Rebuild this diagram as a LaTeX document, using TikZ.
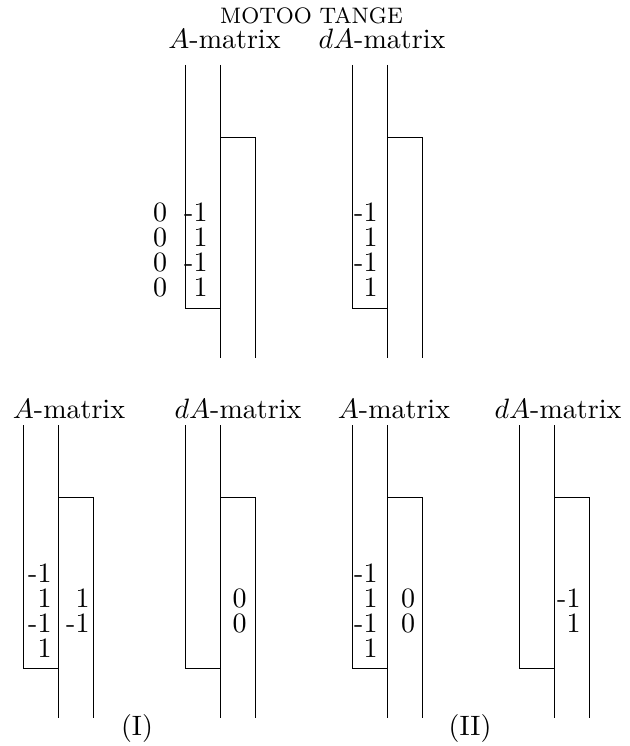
\documentclass[tikz,border=0pt]{standalone}
\usepackage{amsmath}
\usepackage{tikz}
\usetikzlibrary{calc}
\tikzset{
  entry/.style={anchor=base east, inner sep=0pt},
  zentry/.style={anchor=base, inner sep=0pt},
  mlabel/.style={anchor=base, inner sep=0pt}
}
% one A- or dA-matrix: left strip ending low, right strip starting lower
\newcommand{\strippair}[3]{%
  \coordinate (#1-lt) at (#2,{65+#3});
  \coordinate (#1-lb) at (#2,{308+#3});
  \coordinate (#1-mt) at ({#2+35},{65+#3});
  \coordinate (#1-mb) at ({#2+35},{308+#3});
  \coordinate (#1-me) at ({#2+35},{358+#3});
  \coordinate (#1-st) at ({#2+35},{137+#3});
  \coordinate (#1-rt) at ({#2+70},{137+#3});
  \coordinate (#1-re) at ({#2+70},{358+#3});
  \draw (#1-lt) -- (#1-lb) -- (#1-mb);
  \draw (#1-mt) -- (#1-me);
  \draw (#1-st) -- (#1-rt) -- (#1-re);
}

\begin{document}
\begin{tikzpicture}[x=0.357pt, y=-0.357pt, line width=0.35pt]
  \useasboundingbox (0,0) rectangle (629,746);

  \node[mlabel, font=\footnotesize, xscale=0.97] (title) at (311.5,24) {MOTOO TANGE};

  % top
  \node[mlabel] (tA) at (224.5,49) {$A$-matrix};
  \node[mlabel] (tdA) at (382,49) {$dA$-matrix};
  \strippair{ta}{185}{0}
  \strippair{td}{352}{0}

  \node[zentry] (tz1) at (160,222) {0};
  \node[zentry] (tz2) at (160,247) {0};
  \node[zentry] (tz3) at (160,272) {0};
  \node[zentry] (tz4) at (160,297) {0};
  \node[entry] (ta1) at (208,222) {-1};
  \node[entry] (ta2) at (208,247) {1};
  \node[entry] (ta3) at (208,272) {-1};
  \node[entry] (ta4) at (208,297) {1};
  \node[entry] (td1) at (378,222) {-1};
  \node[entry] (td2) at (378,247) {1};
  \node[entry] (td3) at (378,272) {-1};
  \node[entry] (td4) at (378,297) {1};

  % case (I)
  \node[mlabel] (oA) at (69,418) {$A$-matrix};
  \node[mlabel] (odA) at (238,418) {$dA$-matrix};
  \strippair{oa}{23}{360}
  \strippair{od}{185}{360}

  \node[entry] (oa1) at (52,582) {-1};
  \node[entry] (oa2) at (52,607) {1};
  \node[entry] (oa3) at (52,632) {-1};
  \node[entry] (oa4) at (52,657) {1};
  \node[entry] (ob2) at (90,607) {1};
  \node[entry] (ob3) at (90,632) {-1};
  \node[zentry] (od2) at (239.5,607) {0};
  \node[zentry] (od3) at (239.5,632) {0};
  \node[mlabel] (caseI) at (137,735) {(I)};

  % case (II)
  \node[mlabel] (wA) at (394,418) {$A$-matrix};
  \node[mlabel] (wdA) at (558,418) {$dA$-matrix};
  \strippair{wa}{352}{360}
  \strippair{wd}{519}{360}

  \node[entry] (wa1) at (378,582) {-1};
  \node[entry] (wa2) at (378,607) {1};
  \node[entry] (wa3) at (378,632) {-1};
  \node[entry] (wa4) at (378,657) {1};
  \node[zentry] (wb2) at (408,607) {0};
  \node[zentry] (wb3) at (408,632) {0};
  \node[entry] (wd2) at (581,607) {-1};
  \node[entry] (wd3) at (581,632) {1};
  \node[mlabel] (caseII) at (470,735) {(II)};
\end{tikzpicture}
\end{document}
